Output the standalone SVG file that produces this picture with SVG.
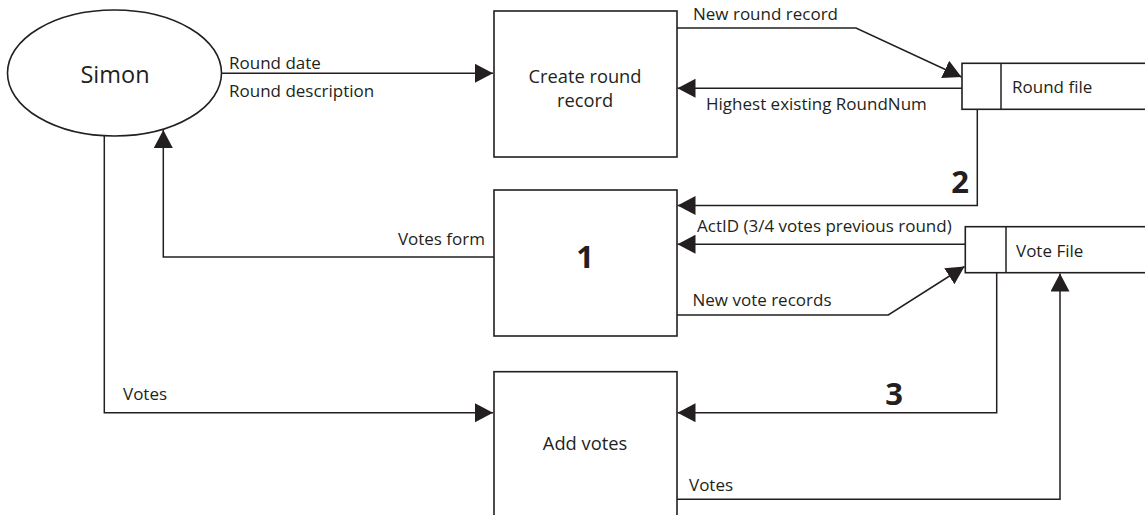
<svg xmlns="http://www.w3.org/2000/svg" width="1145" height="515" viewBox="0 0 1145 515">
<style>
.sh{fill:#fff;stroke:#231f20;stroke-width:1.6}
.ln{fill:none;stroke:#231f20;stroke-width:1.5}
.arr{marker-end:url(#ah)}
text{font-family:"Open Sans","Liberation Sans",sans-serif;fill:#231f20}
.lb{font-size:17px}
.nd{font-size:18.3px;text-anchor:middle}
.num{font-size:31px;font-weight:bold;text-anchor:middle}
</style>
<defs>
<marker id="ah" markerUnits="userSpaceOnUse" markerWidth="20" markerHeight="20" refX="18" refY="9.5" orient="auto">
<path d="M0,0 L18,9.5 L0,19 Z" fill="#231f20"/>
</marker>
</defs>
<g id="connectors">
<path class="ln arr" d="M221,73.3 H493"/>
<path class="ln arr" d="M677,28 H856 L961.5,77"/>
<path class="ln arr" d="M962,88.3 H677.5"/>
<path class="ln arr" d="M977.3,109.3 V205.5 H677.5"/>
<path class="ln arr" d="M494,257 H163.3 V130"/>
<path class="ln arr" d="M965.3,244.3 H677.5"/>
<path class="ln arr" d="M677,315 H888.3 L964.5,266.5"/>
<path class="ln arr" d="M996.7,272.7 V412.7 H677.5"/>
<path class="ln arr" d="M104.3,135.5 V412.7 H493"/>
<path class="ln arr" d="M677,499.3 H1060 V273.5"/>
<text class="lb" x="229" y="69">Round date</text>
<text class="lb" x="229" y="96.5">Round description</text>
<text class="lb" x="693" y="20">New round record</text>
<text class="lb" x="706" y="109.5">Highest existing RoundNum</text>
<text class="num" x="960" y="193">2</text>
<text class="lb" x="485" y="245" text-anchor="end">Votes form</text>
<text class="lb" x="697" y="231.5">ActID (3/4 votes previous round)</text>
<text class="lb" x="692.5" y="306">New vote records</text>
<text class="lb" x="123" y="400">Votes</text>
<text class="num" x="894" y="405">3</text>
<text class="lb" x="689" y="490.5">Votes</text>
</g>
<g id="simon">
<ellipse class="sh" cx="114.5" cy="73" rx="107" ry="63"/>
<text x="115" y="83" style="font-size:23.5px;text-anchor:middle">Simon</text>
</g>
<g id="create-round-record">
<rect class="sh" x="494" y="11" width="183" height="146"/>
<text class="nd" x="585" y="83">Create round</text>
<text class="nd" x="585" y="107">record</text>
</g>
<g id="round-file">
<rect class="sh" x="962" y="63.3" width="200" height="46"/>
<line class="ln" x1="1001" y1="63.3" x2="1001" y2="109.3"/>
<text class="lb" x="1012" y="92.5">Round file</text>
</g>
<g id="process-1">
<rect class="sh" x="494" y="190" width="183" height="146"/>
<text class="num" x="585" y="268">1</text>
</g>
<g id="vote-file">
<rect class="sh" x="965.3" y="226.7" width="200" height="46"/>
<line class="ln" x1="1006" y1="226.7" x2="1006" y2="272.7"/>
<text class="lb" x="1016" y="256.5">Vote File</text>
</g>
<g id="add-votes">
<rect class="sh" x="494" y="371.7" width="183" height="160"/>
<text class="nd" x="585" y="450">Add votes</text>
</g>
</svg>
